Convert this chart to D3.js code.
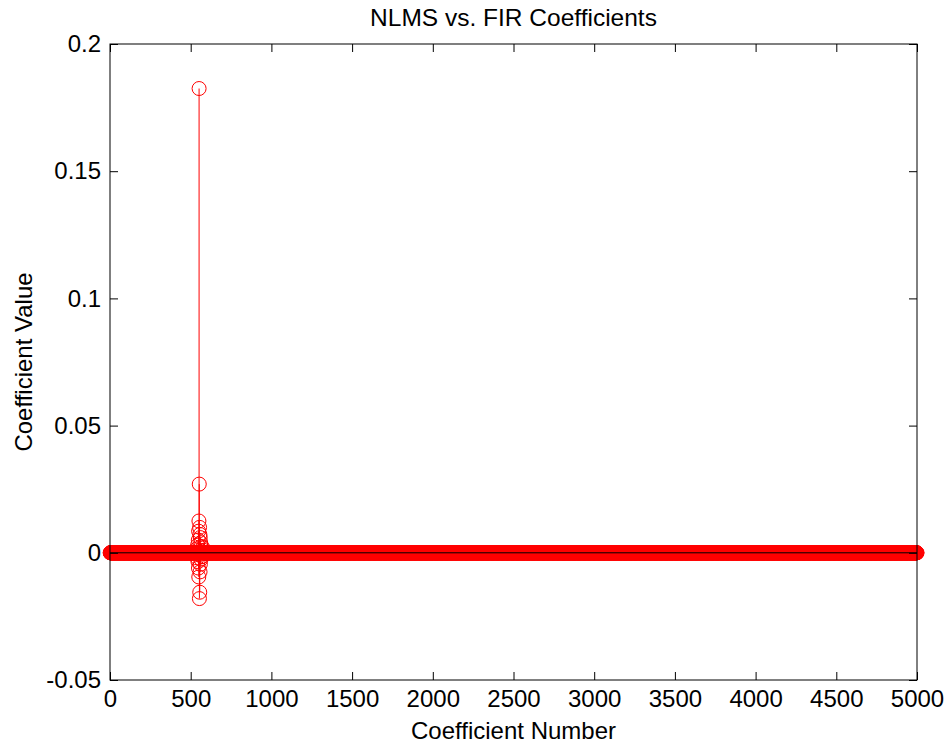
<!DOCTYPE html>
<html>
<head>
<meta charset="utf-8">
<script src="https://cdn.jsdelivr.net/npm/d3@7/dist/d3.min.js"></script>
<style>
  html, body { margin: 0; padding: 0; background: #fff; }
  svg { display: block; }
  text { font-family: "Liberation Sans", Arial, Helvetica, sans-serif; fill: #000; }
</style>
</head>
<body>
<svg id="chart" width="948" height="749"></svg>
<script>
// ---- data ----
const numCoefficients = 5000;
const tapIndex = [536, 540, 543, 545, 547, 548, 549, 550, 551, 552, 553, 554, 555, 556, 557, 558, 559, 560, 562, 564, 566, 570, 575, 580];
const tapValue = [0.0015, -0.002, 0.003, -0.0035, 0.005, -0.006, 0.0085, -0.0095, 0.0125, 0.1825, 0.027, -0.018, 0.010, -0.0155, 0.0072, -0.0075, 0.006, -0.0045, 0.004, -0.0025, 0.0025, -0.0015, 0.002, 0.001];
const xTicks = [0, 500, 1000, 1500, 2000, 2500, 3000, 3500, 4000, 4500, 5000];
const yTicks = [-0.05, 0, 0.05, 0.1, 0.15, 0.2];
const yTickLabels = ["-0.05", "0", "0.05", "0.1", "0.15", "0.2"];
const titleText = "NLMS vs. FIR Coefficients";
const xLabelText = "Coefficient Number";
const yLabelText = "Coefficient Value";

// build coefficient table (zeros except the estimated taps)
const tapMap = new Map(tapIndex.map((k, i) => [k, tapValue[i]]));
const coeffs = d3.range(1, numCoefficients + 1).map(k => ({ k, v: tapMap.has(k) ? tapMap.get(k) : 0 }));

// ---- layout ----
const L = 110, R = 917, T = 44, B = 680;
const svg = d3.select("#chart");
const x = d3.scaleLinear().domain([0, 5000]).range([L, R]);
const y = d3.scaleLinear().domain([-0.05, 0.2]).range([B, T]);
const red = "#ff0000";
const tickLen = 8;
const fs = 24;

// stems
const plot = svg.append("g");
plot.selectAll("line.stem").data(coeffs.filter(d => d.v !== 0)).enter()
  .append("line")
  .attr("x1", d => x(d.k)).attr("x2", d => x(d.k))
  .attr("y1", y(0)).attr("y2", d => y(d.v))
  .attr("stroke", red).attr("stroke-width", 1);

// markers (zero ones first, then nonzero on top)
const ordered = coeffs.filter(d => d.v === 0).concat(coeffs.filter(d => d.v !== 0));
plot.selectAll("circle").data(ordered).enter()
  .append("circle")
  .attr("cx", d => x(d.k)).attr("cy", d => y(d.v)).attr("r", 7)
  .attr("fill", "none").attr("stroke", red).attr("stroke-width", 1);

// baseline
plot.append("line")
  .attr("x1", L).attr("x2", R).attr("y1", y(0)).attr("y2", y(0))
  .attr("stroke", "#000").attr("stroke-width", 1);

// axes with inward ticks on all four sides
const axB = d3.axisBottom(x).tickValues(xTicks).tickSize(-tickLen).tickPadding(10).tickFormat(d3.format("d"));
const axT = d3.axisTop(x).tickValues(xTicks).tickSize(-tickLen).tickFormat("");
const axLf = d3.axisLeft(y).tickValues(yTicks).tickSize(-tickLen).tickPadding(9).tickFormat((d, i) => yTickLabels[i]);
const axRt = d3.axisRight(y).tickValues(yTicks).tickSize(-tickLen).tickFormat("");

function style(g) {
  g.select(".domain").attr("stroke", "#000").attr("stroke-width", 1);
  g.selectAll(".tick line").attr("stroke", "#000");
  g.selectAll(".tick text").style("font-size", fs + "px").attr("fill", "#000")
    .style("font-family", '"Liberation Sans", Arial, sans-serif');
}
svg.append("g").attr("transform", `translate(0,${B})`).call(axB).call(style);
svg.append("g").attr("transform", `translate(0,${T})`).call(axT).call(style);
svg.append("g").attr("transform", `translate(${L},0)`).call(axLf).call(style);
svg.append("g").attr("transform", `translate(${R},0)`).call(axRt).call(style);

svg.selectAll(".domain").remove();
svg.append("rect").attr("x", L).attr("y", T).attr("width", R - L).attr("height", B - T)
  .attr("fill", "none").attr("stroke", "#000").attr("stroke-width", 1);

// titles
svg.append("text").attr("x", (L + R) / 2).attr("y", 26).attr("text-anchor", "middle")
  .style("font-size", "24.5px").text(titleText);
svg.append("text").attr("x", (L + R) / 2).attr("y", 739).attr("text-anchor", "middle")
  .style("font-size", fs + "px").text(xLabelText);
svg.append("text").attr("transform", `translate(32,${(T + B) / 2}) rotate(-90)`).attr("text-anchor", "middle")
  .style("font-size", fs + "px").text(yLabelText);
</script>
</body>
</html>
